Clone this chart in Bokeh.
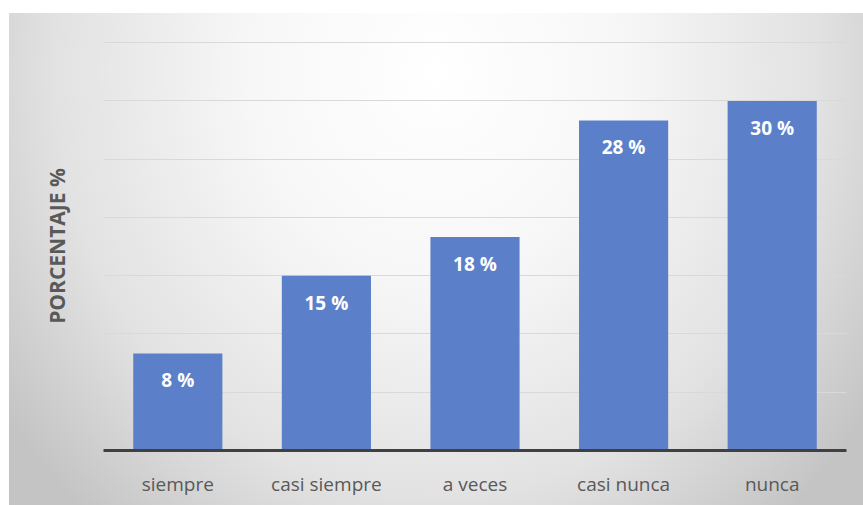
from bokeh.plotting import figure
from bokeh.models import ColumnDataSource, FixedTicker
from bokeh.embed import file_html
from bokeh.resources import INLINE
from bokeh.core.properties import value

categories = ["siempre", "casi siempre", "a veces", "casi nunca", "nunca"]
percentages = [8.33, 15.0, 18.33, 28.33, 30.0]
label_texts = [f"{round(v)} %" for v in percentages]
grid_ticks = [0, 5, 10, 15, 20, 25, 30, 35]

source = ColumnDataSource(data=dict(cat=categories, pct=percentages, lbl=label_texts))

p = figure(
    x_range=categories, y_range=(0, 35.1),
    width=854, height=492,
    output_backend="svg", toolbar_location=None,
    min_border_left=94, min_border_right=17, min_border_top=28, min_border_bottom=55,
)
p.margin = (13, 0, 0, 9)
p.background_fill_color = None
p.border_fill_color = None
p.outline_line_color = None
p.styles = {"background": "radial-gradient(ellipse 62% 120% at 50% 12%, #ffffff 0%, #f7f7f7 35%, #e2e2e2 72%, #c4c4c4 100%)"}

p.vbar(x="cat", top="pct", width=0.6, source=source, color="#5b80c9", line_color=None)

p.text(x="cat", y="pct", text="lbl", source=source, y_offset=27,
       text_align="center", text_baseline="middle",
       text_color="white", text_font=value("Open Sans"), text_font_style="bold",
       text_font_size="19px")

p.xgrid.grid_line_color = None
p.ygrid.grid_line_color = "#d9d9d9"
p.ygrid.grid_line_width = 1
p.ygrid[0].ticker = FixedTicker(ticks=grid_ticks)
p.yaxis.ticker = FixedTicker(ticks=[])

p.xaxis.axis_line_color = "#404040"
p.xaxis.axis_line_width = 3
p.xaxis.major_tick_line_color = None
p.xaxis.minor_tick_line_color = None
p.xaxis.major_label_text_font = "Open Sans"
p.xaxis.major_label_text_font_size = "19px"
p.xaxis.major_label_text_color = "#595959"
p.xaxis.major_label_standoff = 14

p.yaxis.axis_label = "PORCENTAJE %"
p.yaxis.axis_label_text_font = "Open Sans"
p.yaxis.axis_label_text_font_style = "bold"
p.yaxis.axis_label_text_font_size = "21px"
p.yaxis.axis_label_text_color = "#595959"
p.yaxis.axis_label_standoff = 33
p.yaxis.axis_line_color = None
p.yaxis.major_tick_line_color = None
p.yaxis.minor_tick_line_color = None

open("out.html", "w").write(file_html(p, INLINE))
